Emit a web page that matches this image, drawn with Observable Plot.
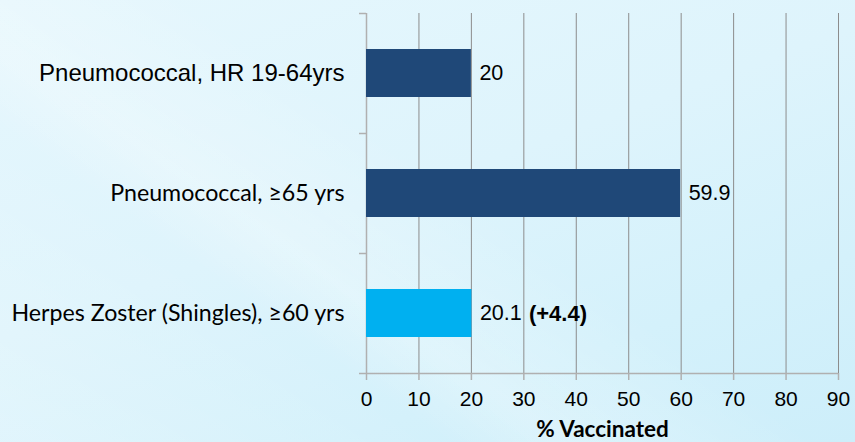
<!DOCTYPE html>
<html>
<head>
<meta charset="utf-8">
<script src="https://cdn.jsdelivr.net/npm/d3@7"></script>
<script src="https://cdn.jsdelivr.net/npm/@observablehq/plot@0.6"></script>
<style>
  html, body { margin: 0; padding: 0; }
  body {
    width: 855px; height: 442px; overflow: hidden;
    background:
      linear-gradient(215deg, rgba(255,255,255,0) 0%, rgba(255,255,255,0) 55%, rgba(255,255,255,0.18) 62%, rgba(255,255,255,0) 70%),
      linear-gradient(35deg, rgba(255,255,255,0.2) 0%, rgba(255,255,255,0) 30%, rgba(255,255,255,0.15) 45%, rgba(255,255,255,0) 55%),
      linear-gradient(160deg, #e6f7fd 0%, #def4fc 45%, #d4f1fb 75%, #cdeefa 100%);
  }
  #chart svg { display: block; background: transparent; }
</style>
</head>
<body>
<div id="chart"></div>
<script>
const categories = ["Pneumococcal, HR 19-64yrs", "Pneumococcal, \u226565 yrs", "Herpes Zoster (Shingles), \u226560 yrs"];
const values = [20, 59.9, 20.1];
const valueLabels = ["20", "59.9", "20.1"];
const changeLabels = ["", "", "(+4.4)"];
const barColors = ["#1f4878", "#1f4878", "#00b0f0"];
const xTicks = [0, 10, 20, 30, 40, 50, 60, 70, 80, 90];
const xLabel = "% Vaccinated";

const data = categories.map((c, i) => ({
  category: c, value: values[i], label: valueLabels[i], change: changeLabels[i], color: barColors[i]
}));

const chart = Plot.plot({
  width: 855,
  height: 442,
  marginLeft: 366,
  marginRight: 17,
  marginTop: 13,
  marginBottom: 69,
  style: { background: "transparent", color: "#000" },
  x: { domain: [0, 90], ticks: xTicks },
  y: { domain: categories, paddingInner: 0.6, paddingOuter: 0.3 },
  marks: [
    Plot.ruleX(xTicks.slice(1), { stroke: "#8c8c8c", strokeWidth: 1 }),
    Plot.ruleX([0], { stroke: "#b0b0b0", strokeWidth: 1.5 }),
    Plot.ruleY([categories[categories.length - 1]], { x1: 0, x2: 90, dy: 60, stroke: "#b0b0b0", strokeWidth: 1.5 }),
    Plot.axisY({ ticks: categories, tickSize: 7, tickFormat: () => "", dy: -60, stroke: "#b0b0b0", strokeWidth: 1.5, label: null }),
    Plot.axisY({ ticks: [categories[categories.length - 1]], tickSize: 7, tickFormat: () => "", dy: 60, stroke: "#b0b0b0", strokeWidth: 1.5, label: null }),
    Plot.axisY({ ticks: [categories[0]], tickSize: 0, tickPadding: 22, fontSize: 24, fontFamily: "Liberation Sans, Arial, sans-serif", fill: "#000", label: null }),
    Plot.axisY({ ticks: categories.slice(1), tickSize: 0, tickPadding: 22, fontSize: 23.2, fontFamily: "Lato, sans-serif", fill: "#000", label: null }),
    Plot.axisX({ ticks: xTicks, tickSize: 7, tickPadding: 11, fontSize: 21, fontFamily: "Liberation Sans, Arial, sans-serif", stroke: "#b0b0b0", strokeWidth: 1.5, fill: "#000", label: null }),
    Plot.barX(data, { x: "value", y: "category", fill: "color" }),
    Plot.text(data, { x: "value", y: "category", text: "label", textAnchor: "start", dx: 8, fontSize: 21.5, fontFamily: "Liberation Sans, Arial, sans-serif", fill: "#000" }),
    Plot.text(data.filter(d => d.change), { x: "value", y: "category", text: "change", textAnchor: "start", dx: 57, fontSize: 22, fontWeight: "bold", fontFamily: "Liberation Sans, Arial, sans-serif", fill: "#000" }),
    Plot.text([xLabel], { frameAnchor: "bottom", lineAnchor: "middle", dy: 56, fontSize: 22.5, fontWeight: "bold", fontFamily: "Lato, sans-serif", fill: "#000" })
  ]
});

document.getElementById("chart").appendChild(chart);
</script>
</body>
</html>
